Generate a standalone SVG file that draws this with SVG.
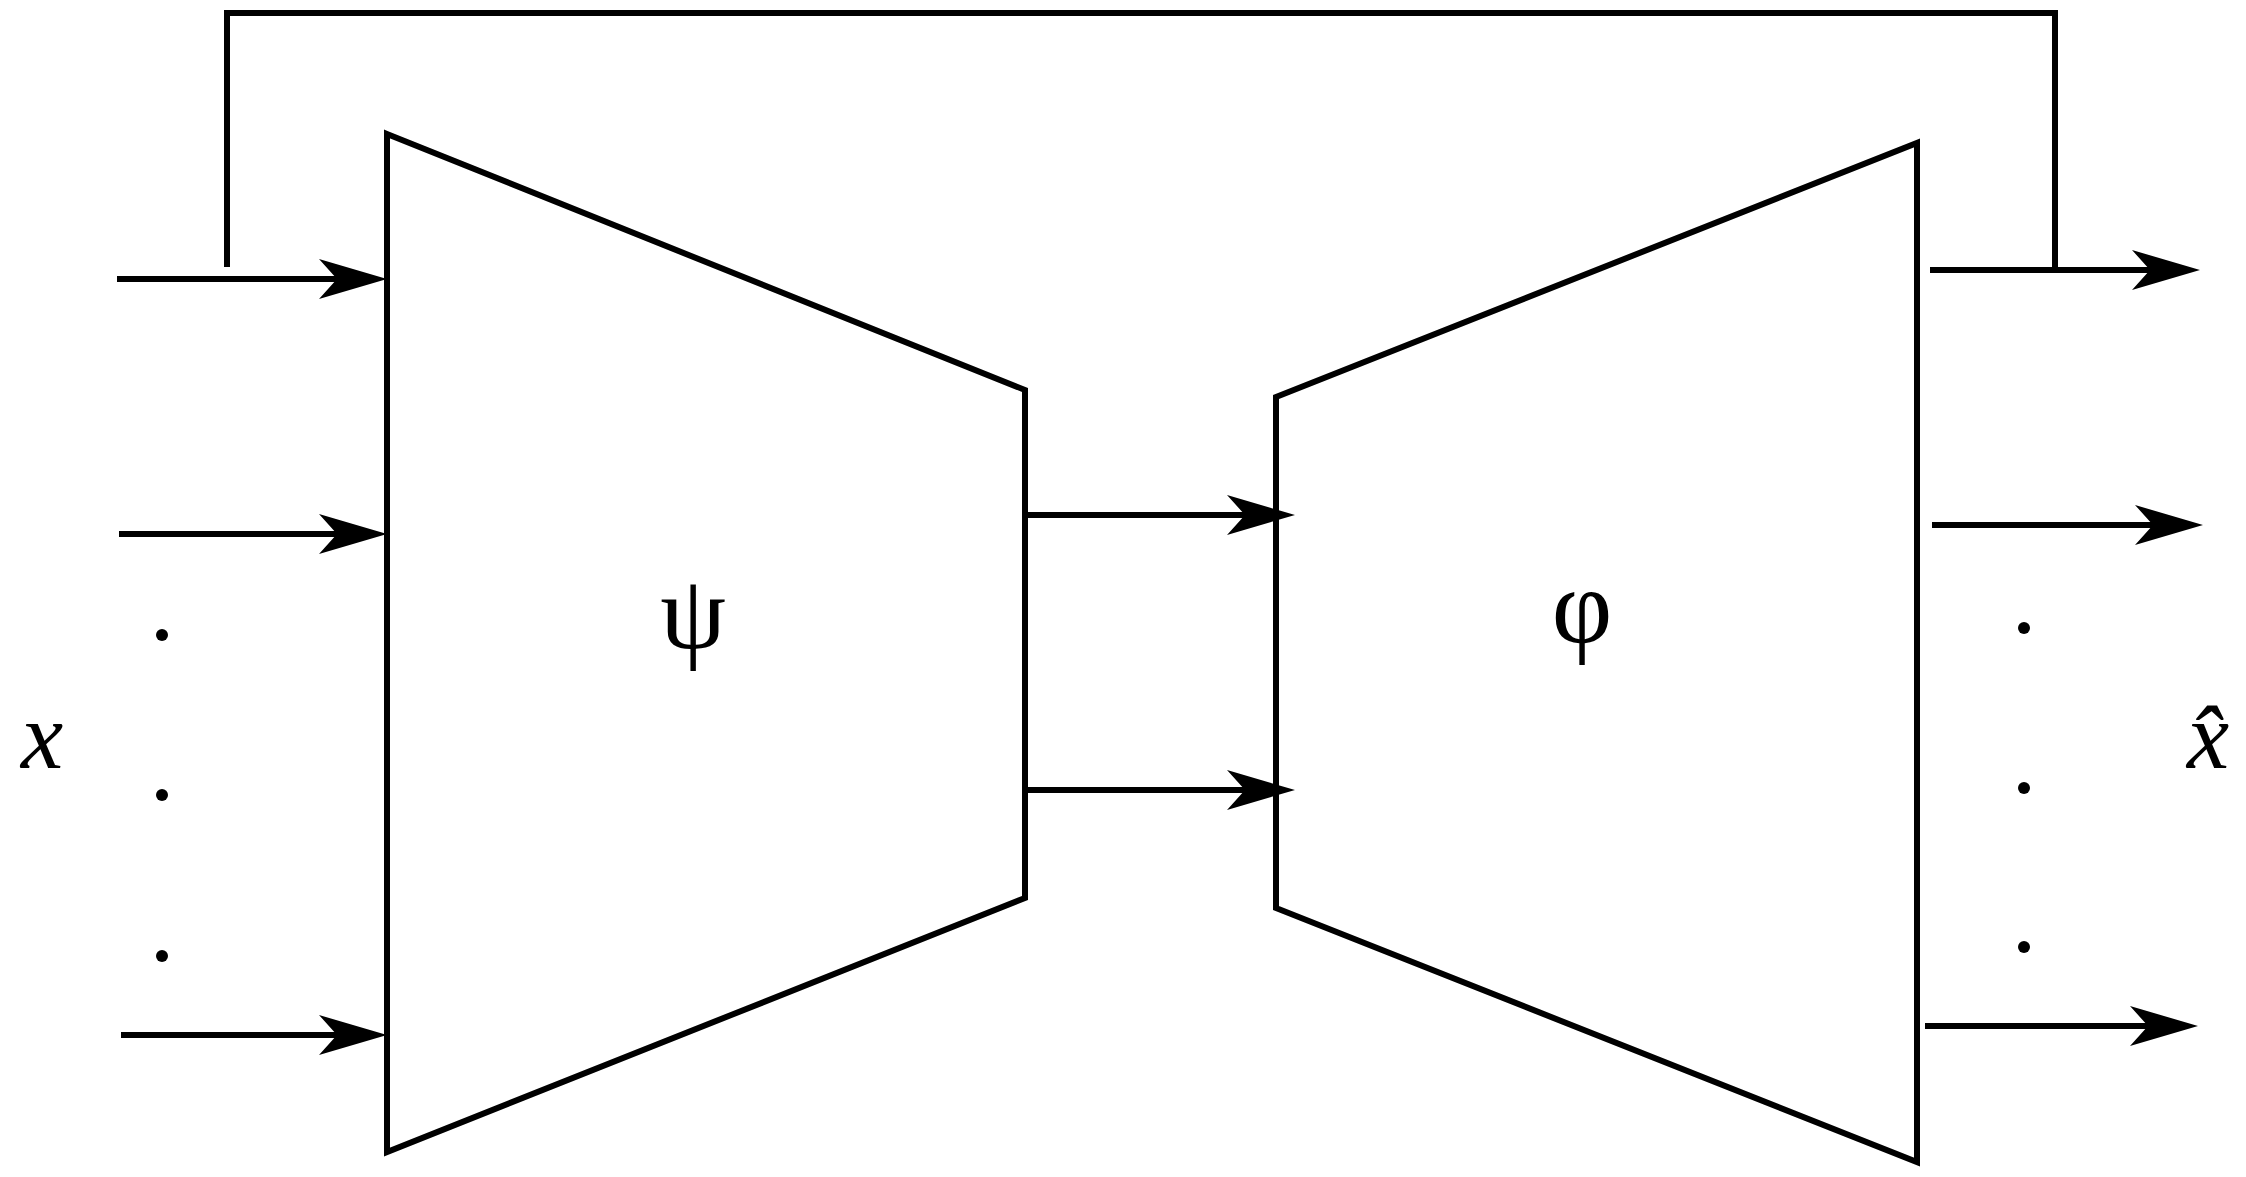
<svg xmlns="http://www.w3.org/2000/svg" width="2246" height="1177" viewBox="0 0 2246 1177">
<style>
.l{stroke:#000;stroke-width:6;fill:none}
.t{font-family:"Liberation Serif",serif;fill:#000}
</style>
<defs>
<marker id="a" markerUnits="userSpaceOnUse" markerWidth="70" markerHeight="40" refX="48" refY="20" orient="auto">
<path d="M0,0 L68,20 L0,40 L18,20 Z" fill="#000"/>
</marker>
</defs>
<rect width="2246" height="1177" fill="#fff"/>
<g id="psi"><polygon class="l" points="387,134 1025,390 1025,898 387,1152"/><text class="t" x="693" y="648" font-size="105" text-anchor="middle">ψ</text></g>
<g id="phi"><polygon class="l" points="1276,397 1917,143 1917,1162 1276,908"/><text class="t" x="1582" y="642" font-size="105" text-anchor="middle">φ</text></g>
<g id="xin"><text class="t" x="42" y="768" font-size="95" font-style="italic" text-anchor="middle">x</text></g>
<g id="xout"><text class="t" x="2208" y="768" font-size="95" font-style="italic" text-anchor="middle">x̂</text></g>
<g id="dots" fill="#000">
<circle cx="162" cy="635" r="6"/><circle cx="162" cy="795" r="6"/><circle cx="162" cy="956" r="6"/>
<circle cx="2024" cy="628" r="6"/><circle cx="2024" cy="788" r="6"/><circle cx="2024" cy="947" r="6"/>
</g>
<g id="connectors">
<path class="l" d="M227,267 V13 H2055 V270"/>
<line class="l" x1="117" y1="279" x2="367" y2="279" marker-end="url(#a)"/>
<line class="l" x1="119" y1="534" x2="367" y2="534" marker-end="url(#a)"/>
<line class="l" x1="121" y1="1035" x2="367" y2="1035" marker-end="url(#a)"/>
<line class="l" x1="1025" y1="515" x2="1275" y2="515" marker-end="url(#a)"/>
<line class="l" x1="1025" y1="790" x2="1275" y2="790" marker-end="url(#a)"/>
<line class="l" x1="1930" y1="270" x2="2180" y2="270" marker-end="url(#a)"/>
<line class="l" x1="1932" y1="525" x2="2183" y2="525" marker-end="url(#a)"/>
<line class="l" x1="1925" y1="1026" x2="2178" y2="1026" marker-end="url(#a)"/>
</g>
</svg>
